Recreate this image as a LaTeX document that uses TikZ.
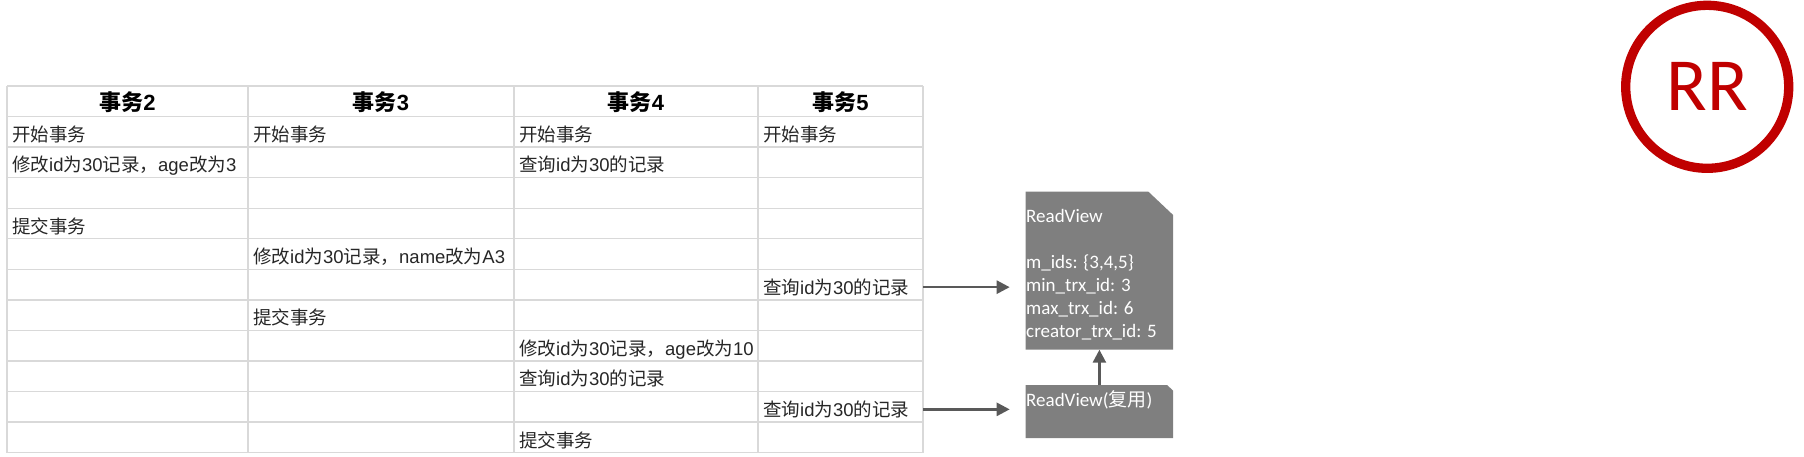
\documentclass[tikz,border=0pt]{standalone}
\usepackage{fontspec}
\usetikzlibrary{arrows.meta}
\newfontfamily\cjk{Noto Sans CJK SC}
\newfontfamily\lat{Liberation Sans}
\newfontfamily\carl{Carlito}
\newcommand\la[1]{{\lat #1}}
\definecolor{gridc}{HTML}{D9D9D9}
\definecolor{boxc}{HTML}{7F7F7F}
\definecolor{arrc}{HTML}{595959}
\definecolor{rrc}{HTML}{C00000}
\definecolor{txtc}{HTML}{262626}
\begin{document}
\begin{tikzpicture}[x=1pt,y=-1pt,
  cell/.style={anchor=base west, inner sep=0, font=\cjk\fontsize{18.5}{20}\selectfont, text=txtc},
  head/.style={anchor=base, inner sep=0, font=\cjk\bfseries\fontsize{22}{24}\selectfont, text=black},
  gridline/.style={draw=gridc, line width=1.3pt},
  arr/.style={draw=arrc, line width=2.6pt, -{Triangle[length=13pt,width=13pt]}},
  rvbox/.style={rectangle, inner sep=0, anchor=north west, minimum width=147pt},
  rvtext/.style={inner sep=0, text=white, font=\carl\fontsize{19}{23}\selectfont},
  rrmark/.style={circle, draw=rrc, line width=9.3pt, minimum size=163pt, inner sep=0, text=rrc, font=\carl\fontsize{75}{80}\selectfont}]
\useasboundingbox (0,0) rectangle (1804,456);
% table grid
\foreach \i in {0,...,12}{
  \draw[gridline] (7,{86+30.55*\i}) -- (923,{86+30.55*\i});
}
\foreach \xx in {7,248,514,758,923}{
  \draw[gridline] (\xx,86) -- (\xx,452.6);
}
\coordinate (tblR) at (923,86);
% header
\node[head] (h2) at (127.5,110.9) {事务\la{2}};
\node[head] (h3) at (381,110.9) {事务\la{3}};
\node[head] (h4) at (636,110.9) {事务\la{4}};
\node[head] (h5) at (840.5,110.9) {事务\la{5}};
% rows: baseline = rowtop + 24.8
\node[cell] (r1a) at (12,141.4) {开始事务};
\node[cell] (r1b) at (253,141.4) {开始事务};
\node[cell] (r1c) at (519,141.4) {开始事务};
\node[cell] (r1d) at (763,141.4) {开始事务};
\node[cell] (r2a) at (12,171.9) {修改\la{id}为\la{30}记录，\la{age}改为\la{3}};
\node[cell] (r2c) at (519,171.9) {查询\la{id}为\la{30}的记录};
\node[cell] (r4a) at (12,233.0) {提交事务};
\node[cell] (r5b) at (253,263.6) {修改\la{id}为\la{30}记录，\la{name}改为\la{A3}};
\node[cell] (q1) at (763,294.2) {查询\la{id}为\la{30}的记录};
\node[cell] (r7b) at (253,324.7) {提交事务};
\node[cell] (r8c) at (519,355.3) {修改\la{id}为\la{30}记录，\la{age}改为\la{10}};
\node[cell] (r9c) at (519,385.8) {查询\la{id}为\la{30}的记录};
\node[cell] (q2) at (763,416.4) {查询\la{id}为\la{30}的记录};
\node[cell] (r11c) at (519,447.0) {提交事务};
% ReadView boxes
\node[rvbox, minimum height=157.6pt] (rv1) at (1025.7,191.7) {};
\fill[boxc] (rv1.south west) -- (rv1.north west) -- ([xshift=-24.7pt]rv1.north east) -- ([yshift=-23.3pt]rv1.north east) -- (rv1.south east) -- cycle;
\node[rvtext, anchor=north west, align=left] (rv1t) at (1026,207.3)
  {\rule{0pt}{15pt}ReadView\\[23pt]m\_ids: \{3,4,5\}\\min\_trx\_id: 3\\max\_trx\_id: 6\\creator\_trx\_id: 5};
\node[rvbox, minimum height=52.7pt] (rv2) at (1025.7,385) {};
\fill[boxc] (rv2.south west) -- (rv2.north west) -- ([xshift=-6pt]rv2.north east) -- ([yshift=-5.7pt]rv2.north east) -- (rv2.south east) -- cycle;
\node[rvtext, anchor=base west] (rv2t) at (1026,406.5) {ReadView({\cjk\fontsize{19}{23}\selectfont 复用})};
% arrows
\draw[arr, shorten >=16pt] (q1.center -| tblR) -- (q1.center -| rv1.west);
\draw[arr, shorten >=16pt] (q2.center -| tblR) -- (q2.center -| rv2.west);
\draw[arr] (rv2.north) -- (rv1.south);
% RR mark
\node[rrmark] (rr) at (1707.2,86.8) {RR};
\end{tikzpicture}
\end{document}
